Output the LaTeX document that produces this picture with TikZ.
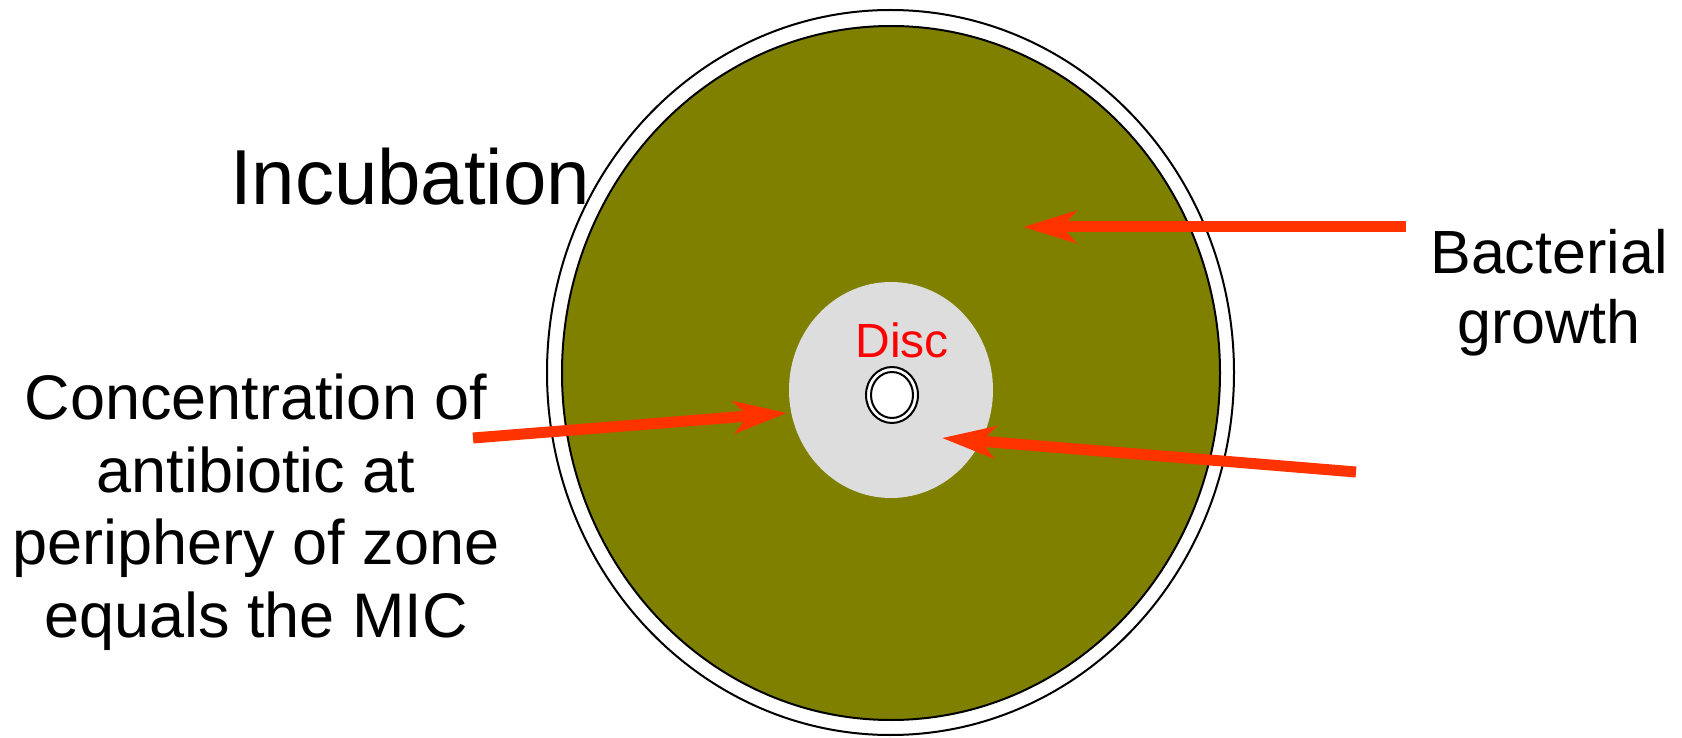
\documentclass[tikz,border=0pt]{standalone}
\usepackage{fontspec}
\setmainfont{Liberation Sans}
\usetikzlibrary{arrows.meta,shapes.geometric}
\definecolor{olivegrowth}{HTML}{808000}
\definecolor{zonegray}{HTML}{DDDDDD}
\definecolor{arrowred}{HTML}{FF3300}
\definecolor{disctext}{HTML}{FF0000}
\tikzset{
  rim/.style={draw=black, line width=2pt},
  pointer/.style={draw=arrowred, line width=11pt,
    -{Stealth[length=53pt, width=32pt, inset=14pt, fill=arrowred]}},
  bigtext/.style={inner sep=0pt, font=\fontsize{78}{90}\selectfont},
  labeltext/.style={inner sep=0pt, align=center},
}
\begin{document}
\begin{tikzpicture}[x=1pt, y=-1pt]
\useasboundingbox (0,0) rectangle (1682,738);
% plate
\draw[rim, fill=white] (890.5,372.5) ellipse [x radius=343.5, y radius=362.5];
\draw[rim, fill=olivegrowth] (891,373) ellipse [x radius=329, y radius=347];
% inhibition zone
\fill[zonegray] (891,390) ellipse [x radius=102, y radius=108];
% disc
\draw[line width=2pt, fill=white] (892,395) ellipse [x radius=26, y radius=28];
\draw[line width=2pt, fill=white] (892,395) ellipse [x radius=21, y radius=23];
\node[inner sep=0pt, anchor=base, text=disctext, font=\fontsize{48}{56}\selectfont] (disc) at (902,357) {Disc};
% texts
\node[bigtext, anchor=base] (incub) at (410,205) {Incubation};
\node[labeltext, anchor=base, font=\fontsize{61}{70}\selectfont] (bact) at (1549,343) {Bacterial\\growth};
\node[labeltext, anchor=base, font=\fontsize{63}{72.5}\selectfont] (conc) at (256,637) {Concentration of\\antibiotic at\\periphery of zone\\equals the MIC};
% arrow coordinates
\coordinate (a1s) at (1406,227);
\coordinate (a1e) at (1023,227);
\coordinate (a2s) at (473,438);
\coordinate (a2e) at (787,413);
\coordinate (a3s) at (1356,472);
\coordinate (a3e) at (942,438);
\draw[pointer] (a1s) -- (a1e);
\draw[pointer] (a2s) -- (a2e);
\draw[pointer] (a3s) -- (a3e);
\end{tikzpicture}
\end{document}
